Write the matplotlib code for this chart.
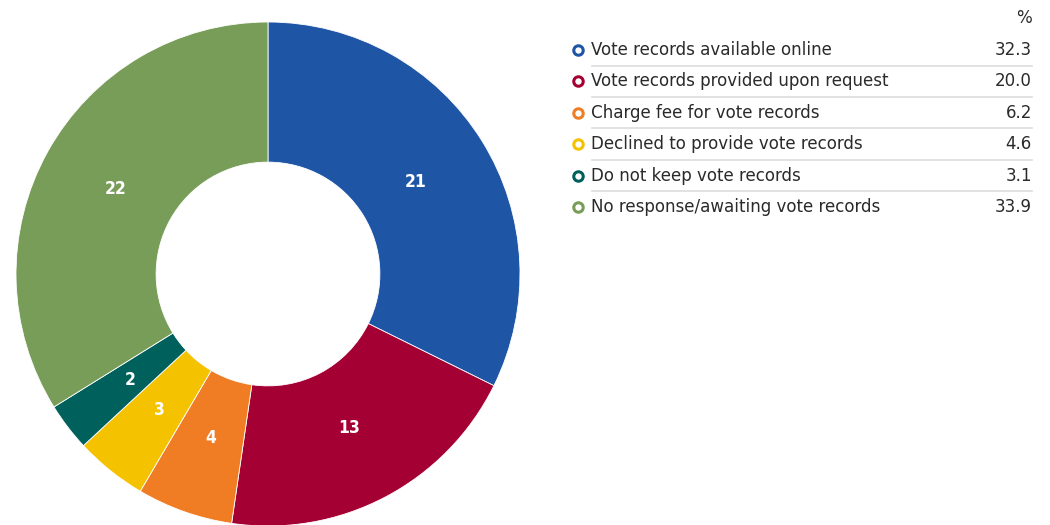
import matplotlib.pyplot as plt
import numpy as np

plt.rcParams['font.family'] = ['DejaVu Sans']
plt.rcParams['font.stretch'] = 'condensed'

categories = [
    "Vote records available online",
    "Vote records provided upon request",
    "Charge fee for vote records",
    "Declined to provide vote records",
    "Do not keep vote records",
    "No response/awaiting vote records",
]
counts = [21, 13, 4, 3, 2, 22]
percents = [32.3, 20.0, 6.2, 4.6, 3.1, 33.9]
colors = ["#1F55A5", "#A50034", "#F07C24", "#F5C200", "#00615C", "#789D59"]

fig = plt.figure(figsize=(10.5, 5.25), dpi=100)

# donut, outer radius 252 px centred at (268, 274) px
ax = fig.add_axes([16 / 1050, -1 / 525, 504 / 1050, 504 / 525])
wedges, texts = ax.pie(counts, colors=colors, startangle=90, counterclock=False,
                       radius=1.0, labels=[str(c) for c in counts],
                       labeldistance=0.69,
                       wedgeprops=dict(width=0.556, linewidth=0.6, edgecolor="white"),
                       textprops=dict(color="white", fontsize=12.5, fontweight="bold",
                                      fontstretch="condensed"))
for t in texts:
    t.set_horizontalalignment("center")
    t.set_verticalalignment("center")
ax.set_xlim(-1, 1)
ax.set_ylim(-1, 1)
ax.set_aspect("equal")
ax.axis("off")

# legend table in pixel coordinates
lg = fig.add_axes([0, 0, 1, 1])
lg.set_xlim(0, 1050)
lg.set_ylim(525, 0)
lg.axis("off")

row_y = 50
step = 31.4
txt = dict(fontsize=13.3, color="#2a2a2a", fontstretch="condensed")
lg.text(1032, 18, "%", ha="right", va="center", **txt)
for i, (cat, pct, col) in enumerate(zip(categories, percents, colors)):
    y = row_y + i * step
    lg.plot([578], [y], marker="o", markersize=6.8, markerfacecolor="white",
            markeredgecolor=col, markeredgewidth=2.2, linestyle="none")
    lg.text(591, y, cat, ha="left", va="center", **txt)
    lg.text(1032, y, f"{pct:.1f}", ha="right", va="center", **txt)
    if i < len(categories) - 1:
        lg.plot([592, 1032], [y + 15.5, y + 15.5], color="#dddddd", linewidth=1.2)

fig.savefig("out.png", dpi=100)
